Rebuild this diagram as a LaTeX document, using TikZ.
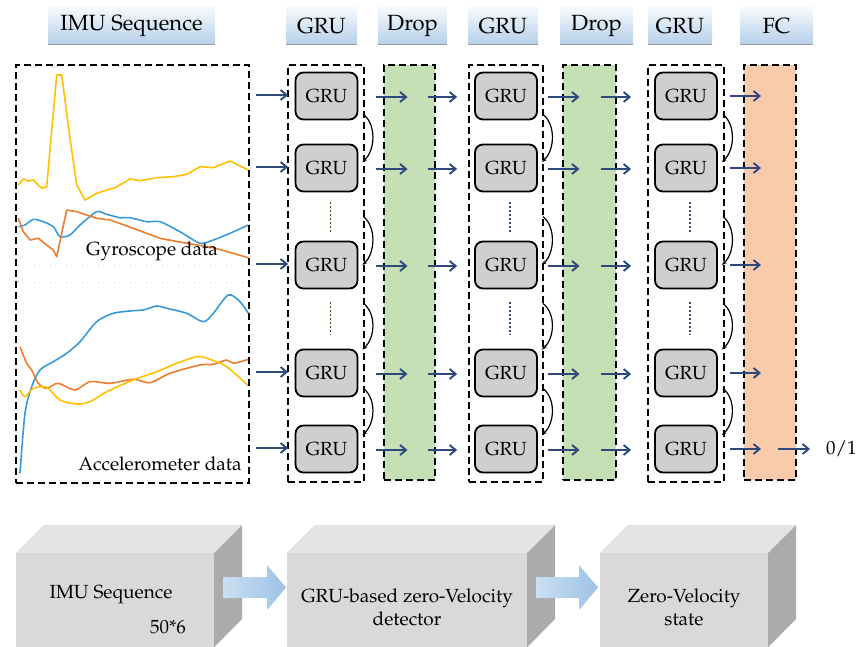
\documentclass[tikz,border=0pt]{standalone}
\usepackage[T1]{fontenc}
\usepackage{mathpazo}
\usetikzlibrary{arrows.meta,positioning,calc}
\definecolor{navy}{HTML}{2E4A7D}
\definecolor{pgreen}{HTML}{C5E0B4}
\definecolor{ppeach}{HTML}{F8CBAD}
\definecolor{pgru}{HTML}{D0CECE}
\definecolor{tabtop}{HTML}{F7FAFD}
\definecolor{tabbot}{HTML}{B4CFEA}
\definecolor{cyel}{HTML}{FFC000}
\definecolor{cblu}{HTML}{3A9AD9}
\definecolor{cora}{HTML}{ED7D31}
\definecolor{frontf}{HTML}{D9D9D9}
\definecolor{topf}{HTML}{E4E4E4}
\definecolor{sidef}{HTML}{ABABAB}
\definecolor{arwl}{HTML}{CADFF2}
\definecolor{arwr}{HTML}{9DC3E6}
\tikzset{
  % header tab: light blue gradient with a grey lower edge
  tab/.style  = {rectangle, top color=tabtop, bottom color=tabbot, minimum height=38pt,
                 inner sep=0pt, font=\fontsize{22}{26}\selectfont,
                 path picture={\draw[line width=2.5pt, black!40]
                   (path picture bounding box.south west) -- (path picture bounding box.south east);}},
  gru/.style  = {rectangle, rounded corners=8pt, draw=black, line width=1.8pt, fill=pgru,
                 minimum width=62pt, minimum height=47pt, inner sep=0pt,
                 font=\fontsize{19}{23}\selectfont},
  col/.style  = {rectangle, draw=black, line width=1.8pt, dash pattern=on 7pt off 4pt,
                 inner sep=0pt, minimum height=417pt},
  link/.style = {-{Straight Barb[length=6pt, width=10pt]}, navy, line width=1.9pt},
  rec/.style  = {-{Stealth[length=5pt]}, black, line width=1.2pt},
  dots/.style = {line width=1.6pt, dash pattern=on 1.6pt off 2.4pt},
  sig/.style  = {line width=1.6pt, line join=round},
  lbl/.style  = {font=\fontsize{19}{23}\selectfont, inner sep=2pt},
  cube/.style = {rectangle, fill=frontf, inner sep=0pt, minimum height=94pt},
}
\begin{document}
\begin{tikzpicture}[x=1pt,y=-1pt]
\useasboundingbox (0,0) rectangle (857,647);
% header tabs
\node[tab, minimum width=167pt] (tImu)   at (131.5,26) {IMU Sequence};
\node[tab, minimum width=71pt]  (tGru1)  at (321.5,26) {GRU};
\node[tab, minimum width=69pt]  (tDrop1) at (412.5,26) {Drop};
\node[tab, minimum width=70pt]  (tGru2)  at (503,26)   {GRU};
\node[tab, minimum width=73pt]  (tDrop2) at (596.5,26) {Drop};
\node[tab, minimum width=64pt]  (tGru3)  at (680,26)   {GRU};
\node[tab, minimum width=73pt]  (tFc)    at (776.5,26) {FC};
% imu signals
\draw[black!25, line width=1pt, dash pattern=on 1pt off 15pt] (18,266) -- (248,266);
\draw[black!25, line width=1pt, dash pattern=on 1pt off 15pt] (18,282) -- (248,282);
\draw[sig, cyel] plot coordinates {(18.3,185) (23.3,179) (28.3,181) (33.3,180) (41.7,188.3) (46.7,186.7)
  (56.7,75) (61.7,75) (70,138.3) (76.7,185) (85,200) (96.7,193.3) (106.7,190) (115,187.7) (130,179)
  (140,180.7) (156.7,177.7) (173.3,176.7) (186.7,174.3) (200,166.7) (213.3,167.7) (230,161) (248.3,170)};
\draw[sig, cblu] plot[smooth, tension=0.4] coordinates {(18.3,226.7) (25,225) (33.3,219.3) (43.3,221.7)
  (53.3,226.7) (60,236.7) (70,235) (80,225) (96.7,211.7) (106.7,214.3) (120,217.7) (130,217.7)
  (146.7,221.7) (160,221.7) (180,231.7) (200,243.3) (213.3,240) (230,233.3) (248.3,225)};
\draw[sig, cora] plot coordinates {(18.3,218.3) (23.3,231.7) (30,240) (38.3,238.3) (46.7,245) (53.3,250)
  (56.7,256.7) (66.7,210) (76.7,211.7) (96.7,218.3) (110,220) (133.3,228.3) (160,238.3) (186.7,243.3)
  (213.3,247.7) (248.3,257.7)};
\draw[sig, cblu] plot[smooth, tension=0.5] coordinates {(20,473.3) (25,413.3) (31.7,386.7) (40,370)
  (53.3,361.7) (66.7,353.3) (80,341.7) (96.7,321.7) (113.3,313.3) (133.3,310.7) (143.3,310) (156.7,306)
  (166.7,308.3) (186.7,313.3) (203.3,321.7) (213.3,313.3) (228.3,295) (240,301.7) (248.3,313.3)};
\draw[sig, cora] plot[smooth, tension=0.5] coordinates {(20,346.7) (26.7,363.3) (31.7,370) (38.3,383.3)
  (46.7,388.3) (58.3,383.3) (75,390) (90,381.7) (110,383.3) (133.3,379.3) (150,382.7) (170,373.3)
  (200,365) (213.3,364.3) (226.7,360) (233.3,363.3) (248.3,359.3)};
\draw[sig, cyel] plot[smooth, tension=0.5] coordinates {(20,390) (25,396.7) (33.3,388.3) (46.7,387.3)
  (60,400) (76.7,404) (90,401.7) (106.7,391.7) (133.3,380) (156.7,371.7) (176.7,363.3) (196.7,356.7)
  (206.7,358.3) (226.7,366.7) (248.3,386)};
\node[lbl] (gyro) at (152,251) {Gyroscope data};
\node[lbl] (acc)  at (160,464) {Accelerometer data};
\node[col, minimum width=233pt, minimum height=418pt] (imu) at (132.5,274) {};
% layer columns
\node[col, fill=pgreen, minimum width=51pt, minimum height=415pt] (d1) at (409.5,272.5) {};
\node[col, fill=pgreen, minimum width=53pt, minimum height=415pt] (d2) at (589.5,272.5) {};
\node[col, fill=ppeach, minimum width=52pt, minimum height=415pt] (fc) at (770,272.5) {};
\node[col, minimum width=76pt] (c1) at (326,273.5) {};
\node[col, minimum width=74pt] (c2) at (506,273.5) {};
\node[col, minimum width=76pt] (c3) at (686,273.5) {};
% gru cells
\foreach \c/\x in {1/326.5,2/506,3/686}
  \foreach \r/\y in {1/96,2/168,3/265,4/373,5/449}
    {\node[gru] (g\c\r) at (\x,\y) {GRU};}
% recurrent links and dots
\foreach \c/\dc in {1/black!45!brown,2/navy,3/navy}{
  \draw[rec] ($(g\c1.south east)+(5,-6)$) .. controls +(13,10) and +(13,-12) .. ($(g\c2.east)+(4,-6)$);
  \draw[rec] ($(g\c3.north east)+(5,-24)$) .. controls +(13,10) and +(13,-12) .. ($(g\c3.east)+(4,0)$);
  \draw[rec] ($(g\c3.south east)+(5,14)$) .. controls +(13,10) and +(13,-12) .. ($(g\c4.north east)+(4,1)$);
  \draw[rec] ($(g\c4.south east)+(5,-9)$) .. controls +(13,10) and +(13,-12) .. ($(g\c5.east)+(4,-14)$);
  \draw[dots, \dc] ($(g\c2.south)+(4,10)$) -- ($(g\c3.north)+(4,-7)$);
  \draw[dots, \dc] ($(g\c3.south)+(4,13)$) -- ($(g\c4.north)+(4,-14)$);
}
% forward links
\foreach \r in {1,...,5}{
  \draw[link] ($(imu.east |- g1\r)+(6,-1)$) -- ($(c1.west |- g1\r)+(1,-1)$);
  \draw[link] ($(c1.east |- g1\r)+(11,1)$) -- ($(d1.center |- g1\r)+(-2,1)$);
  \draw[link] ($(d1.center |- g1\r)+(18,1)$) -- ($(c2.west |- g1\r)+(-11,1)$);
  \draw[link] ($(c2.east |- g2\r)+(4,1)$) -- ($(d2.center |- g2\r)+(-10,1)$);
  \draw[link] ($(d2.center |- g2\r)+(11,1)$) -- ($(c3.west |- g2\r)+(-16,1)$);
  \draw[link] ($(c3.east |- g3\r)+(5,0)$) -- ($(fc.center |- g3\r)+(-9,0)$);
}
\node[lbl, anchor=west] (out) at (824,449) {0/1};
\draw[link] ($(fc.center |- g35)+(8,0)$) -- ($(out.west)+(-14,0)$);
% pipeline blocks
\foreach \n/\x/\w in {b1/115/198, b2/407/240, b3/684/168}{
  \node[cube, minimum width=\w pt] (\n) at (\x,600) {};
  \fill[topf] (\n.north west) -- ++(28,-28) -- ++(\w,0) -- (\n.north east) -- cycle;
  \fill[sidef] (\n.north east) -- ++(28,-28) -- ++(0,94) -- (\n.south east) -- cycle;
}
\shade[left color=arwl, right color=arwr] (223,577) -- (267,577) -- (267,565) -- (286,587.5)
  -- (267,610) -- (267,598) -- (223,598) -- cycle;
\shade[left color=arwl, right color=arwr] (536,577) -- (579,577) -- (579,565) -- (598,587.5)
  -- (579,610) -- (579,598) -- (536,598) -- cycle;
\node[lbl] (s1)  at (111,595) {IMU Sequence};
\node[lbl] (s1n) at (168,627) {50*6};
\node[lbl, align=center] (s2) at (407,607) {GRU-based zero-Velocity\\detector};
\node[lbl, align=center] (s3) at (684,607) {Zero-Velocity\\state};
\end{tikzpicture}
\end{document}
